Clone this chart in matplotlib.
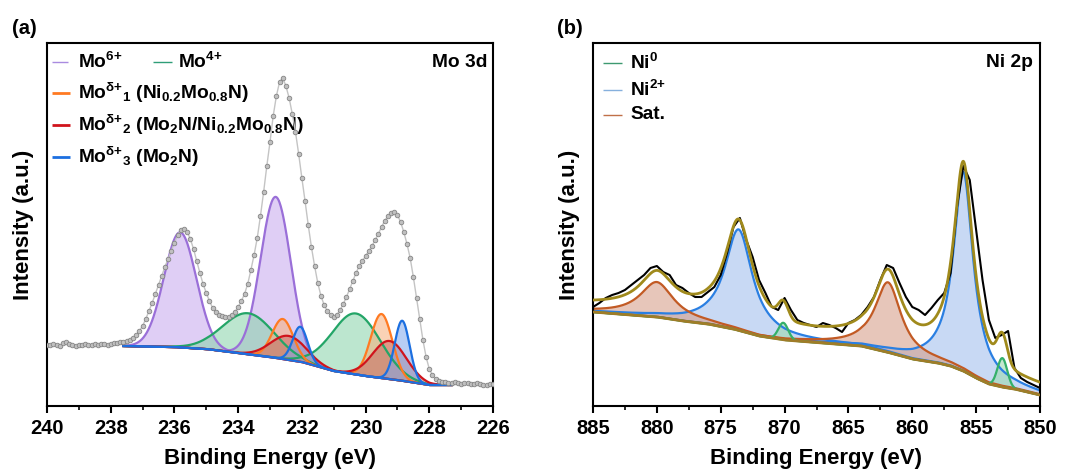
import numpy as np
import matplotlib
matplotlib.use("Agg")
import matplotlib.pyplot as plt

# ==========================
# FONTS
# ==========================
plt.rcParams["font.family"] = ["Liberation Sans", "DejaVu Sans"]
plt.rcParams["font.weight"] = "bold"
plt.rcParams["mathtext.fontset"] = "custom"
plt.rcParams["mathtext.rm"] = "Liberation Sans:bold"
plt.rcParams["mathtext.it"] = "Liberation Sans:bold"
plt.rcParams["mathtext.bf"] = "Liberation Sans:bold"
plt.rcParams["mathtext.default"] = "rm"

# ==========================
# DATA (a) Mo 3d
# ==========================
mo_energy = np.round(np.arange(240.0, 225.95, -0.1), 1)
mo_counts = [
    61, 61, 62, 61, 60, 63, 64, 62, 61, 60, 61,
    61, 62, 61, 61, 62, 61, 62, 62, 61, 62,
    63, 63, 64, 64, 65, 66, 68, 71, 75, 80,
    87, 95, 103, 112, 121, 130, 139, 147, 155, 163,
    171, 176, 177, 174, 167, 157, 145, 133, 122, 113,
    105, 98, 94, 91, 90, 89, 89, 91, 94, 99,
    105, 112, 122, 136, 151, 168, 190, 214, 240, 264,
    290, 310, 324, 328, 320, 308, 292, 274, 252, 228,
    205, 181, 159, 140, 123, 110, 101, 95, 91, 89,
    91, 96, 102, 109, 117, 125, 133, 140, 145, 150,
    155, 160, 166, 172, 179, 185, 190, 193, 194, 191,
    184, 174, 162, 148, 129, 108, 87, 66, 49, 37,
    31, 27, 25, 24, 24, 23, 23, 24, 23, 22,
    23, 23, 22, 22, 23, 22, 21, 21, 22, 22,
]

# Shirley-like background under the fitted peaks
mo_bg_energy = [237.6, 236.0, 235.0, 234.0, 233.0, 232.0, 231.0, 230.0, 229.0, 228.0, 227.3]
mo_bg_level = [60, 59, 57, 53, 49, 44, 35, 30, 26, 21, 21]

# fitted components: centre (eV), height above background, FWHM (eV)
mo6_peaks = [(235.82, 115, 1.20), (232.82, 161, 1.12)]
mo4_peaks = [(233.68, 41, 1.90), (230.30, 61, 1.80)]
mod1_peaks = [(232.60, 40, 0.78), (229.50, 64, 0.80)]
mod2_peaks = [(232.42, 24, 1.30), (229.25, 38, 1.25)]
mod3_peaks = [(232.05, 35, 0.55), (228.85, 60, 0.55)]

# ==========================
# DATA (b) Ni 2p
# ==========================
ni_energy = np.arange(885.0, 849.9, -0.5)
ni_counts = [
    99, 103, 108, 111, 113, 116, 121, 126, 131, 138,
    140, 134, 131, 121, 118, 113, 109, 109, 114, 119,
    131, 153, 179, 188, 166, 149, 126, 113, 99, 96,
    108, 96, 86, 83, 81, 79, 83, 81, 78, 74,
    83, 86, 91, 99, 109, 126, 141, 138, 123, 109,
    99, 96, 91, 98, 106, 113, 133, 199, 240, 226,
    176, 126, 86, 68, 71, 75, 38, 28, 24, 21,
    18,
]

ni_bg_energy = [885, 882, 880, 878, 876, 874, 872, 870, 868, 866, 864, 862, 860, 858, 857, 856, 855, 854, 853, 852, 851, 850]
ni_bg_level = [94, 91, 89, 85, 82, 77, 70, 66, 64, 62, 60, 54, 47, 43, 40, 35, 28, 22, 19, 17, 14, 11]
# the fit baseline sits a little above the drawn one
ni_env_offset = 7

ni2_peaks = [(856.0, 199, 1.85), (873.6, 101, 2.6)]
sat_peaks = [(880.0, 35, 3.2), (861.9, 70, 2.5)]
ni0_peaks = [(852.95, 29, 0.9), (870.1, 17, 0.9)]

assert len(mo_counts) == len(mo_energy)
assert len(ni_counts) == len(ni_energy)


def gauss(x, c, h, w):
    return h * np.exp(-4 * np.log(2) * (x - c) ** 2 / w ** 2)


def lorentz(x, c, h, w):
    return h / (1 + 4 * (x - c) ** 2 / w ** 2)


def legend_entry(ax, x0, x1, xt, y, color, label, lw=1.0):
    ax.plot([x0, x1], [y, y], transform=ax.transAxes, color=color, lw=lw,
            clip_on=False, solid_capstyle="butt")
    ax.text(xt, y, label, transform=ax.transAxes, ha="left", va="center",
            fontsize=13.8, fontweight="bold")


def style_axis(ax):
    for sp in ax.spines.values():
        sp.set_linewidth(1.5)
    ax.set_yticks([])
    ax.tick_params(axis="x", which="major", direction="out", length=5,
                   width=1.5, labelsize=14.5, pad=4.5, top=False)
    ax.tick_params(axis="x", which="minor", direction="out", length=3,
                   width=1.2, top=False)
    ax.set_ylim(0, 363)
    ax.set_xlabel("Binding Energy (eV)", fontsize=16, fontweight="bold")
    ax.set_ylabel("Intensity (a.u.)", fontsize=16, fontweight="bold")
    ax.xaxis.set_label_coords(0.5, -0.115)
    ax.yaxis.set_label_coords(-0.03, 0.5)


fig = plt.figure(figsize=(10.69, 4.73), dpi=100)
ax1 = fig.add_axes([47 / 1069, 67 / 473, 446 / 1069, 363 / 473])
ax2 = fig.add_axes([593 / 1069, 67 / 473, 447 / 1069, 363 / 473])

# ==========================
# PANEL (a)
# ==========================
xs = np.linspace(237.6, 227.3, 800)
bg = np.interp(xs, mo_bg_energy[::-1], mo_bg_level[::-1])

mo_styles = [
    (mo6_peaks, "#9A6FD8", "#C6A6EE"),
    (mo4_peaks, "#23A567", "#86D2A8"),
    (mod1_peaks, "#FF7A22", "#F7AE78"),
    (mod2_peaks, "#D0141C", "#C86A62"),
    (mod3_peaks, "#1C6FE0", "#7FA6EC"),
]
for peaks, line_c, fill_c in mo_styles:
    for c, h, w in peaks:
        y = bg + gauss(xs, c, h, w)
        ax1.fill_between(xs, bg, y, color=fill_c, alpha=0.55, lw=0)
        ax1.plot(xs, y, color=line_c, lw=1.6)

ax1.plot(mo_energy, mo_counts, "-", color="#C4C4C4", lw=1.0, zorder=5)
ax1.plot(mo_energy, mo_counts, "o", ms=3.3, mfc="#C0C0C0", mec="#858585",
         mew=0.6, zorder=6)

ax1.set_xlim(240, 226)
ax1.set_xticks(np.arange(240, 225, -2))
ax1.set_xticks(np.arange(239, 226, -2), minor=True)
style_axis(ax1)

legend_entry(ax1, 0.011, 0.047, 0.069, 0.947, "#A98BE0", r"Mo$^{6{+}}$", 1.0)
legend_entry(ax1, 0.238, 0.280, 0.294, 0.947, "#2F9E78", r"Mo$^{4{+}}$", 1.0)
legend_entry(ax1, 0.011, 0.051, 0.069, 0.862, "#FF7A22",
             r"Mo$^{\delta{+}}$$_{1}$ (Ni$_{0.2}$Mo$_{0.8}$N)", 2.0)
legend_entry(ax1, 0.011, 0.051, 0.069, 0.774, "#D0141C",
             r"Mo$^{\delta{+}}$$_{2}$ (Mo$_{2}$N/Ni$_{0.2}$Mo$_{0.8}$N)", 2.0)
legend_entry(ax1, 0.011, 0.051, 0.069, 0.686, "#1C6FE0",
             r"Mo$^{\delta{+}}$$_{3}$ (Mo$_{2}$N)", 2.0)
ax1.text(0.987, 0.947, "Mo 3d", transform=ax1.transAxes, ha="right",
         va="center", fontsize=13.8, fontweight="bold")

# ==========================
# PANEL (b)
# ==========================
xb = np.linspace(885, 850, 1400)
bgb = np.interp(xb, ni_bg_energy[::-1], ni_bg_level[::-1])

envelope = bgb + ni_env_offset
ni_styles = [
    (ni2_peaks, lorentz, "#2A7FE2", "#A4C0EE"),
    (sat_peaks, lorentz, "#C25A24", "#D7A08C"),
    (ni0_peaks, gauss, "#34B06A", "#9ED9B2"),
]
for peaks, shape, line_c, fill_c in ni_styles:
    for c, h, w in peaks:
        comp = shape(xb, c, h, w)
        envelope += comp
        ax2.fill_between(xb, bgb, bgb + comp, color=fill_c, alpha=0.6, lw=0)
        ax2.plot(xb, bgb + comp, color=line_c, lw=1.6)

ax2.plot(ni_energy, ni_counts, color="black", lw=1.5, zorder=5)
ax2.plot(xb, envelope, color="#A08A1C", lw=2.0, zorder=6)
ax2.plot(xb, bgb, color="#A07C28", lw=2.0, zorder=6)

ax2.set_xlim(885, 850)
ax2.set_xticks(np.arange(885, 849, -5))
ax2.set_xticks(np.arange(882.5, 850, -5), minor=True)
style_axis(ax2)

legend_entry(ax2, 0.022, 0.065, 0.083, 0.945, "#3D9970", r"Ni$^{0}$", 1.0)
legend_entry(ax2, 0.022, 0.065, 0.083, 0.870, "#86B0DD", r"Ni$^{2{+}}$", 1.0)
legend_entry(ax2, 0.022, 0.065, 0.083, 0.802, "#C07048", "Sat.", 1.0)
ax2.text(0.985, 0.947, "Ni 2p", transform=ax2.transAxes, ha="right",
         va="center", fontsize=13.8, fontweight="bold")

fig.text(12 / 1069, 1 - 29 / 473, "(a)", fontsize=14.5, fontweight="bold",
         va="center", ha="left")
fig.text(557 / 1069, 1 - 29 / 473, "(b)", fontsize=14.5, fontweight="bold",
         va="center", ha="left")

fig.savefig("out.png", dpi=100)
